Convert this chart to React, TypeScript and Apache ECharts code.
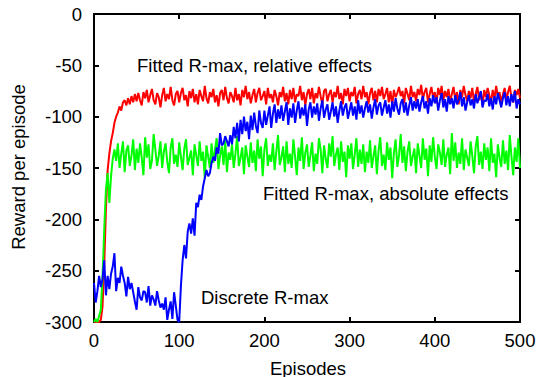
import React, { useEffect, useRef } from "react";
import * as echarts from "echarts";

const FONT = '"Liberation Sans", Arial, Helvetica, sans-serif';
const FS = 18.5;

// Episodes are sampled every 2 episodes, from 0 to 500
const EPISODE_STEP = 2;
const xTicks = [0, 100, 200, 300, 400, 500];
const yTicks = [-300, -250, -200, -150, -100, -50, 0];

const relativeEffects = [
  -300, -300, -300, -300, -298, -285, -245, -190, -152, -136,
  -124, -116, -106, -100, -96, -90, -94, -86, -84, -89,
  -82, -88, -80, -86, -78, -85, -77, -84, -89, -76,
  -82, -74, -86, -79, -73, -84, -88, -77, -81, -91,
  -79, -72, -85, -78, -83, -71, -84, -89, -78, -75,
  -86, -77, -72, -84, -79, -90, -75, -82, -73, -86,
  -78, -88, -74, -80, -85, -70, -82, -87, -76, -81,
  -73, -86, -79, -90, -77, -74, -84, -71, -82, -87,
  -76, -80, -86, -72, -84, -78, -89, -74, -81, -70,
  -83, -76, -87, -79, -73, -86, -77, -72, -84, -80,
  -75, -88, -72, -82, -78, -86, -74, -80, -89, -76,
  -81, -71, -85, -77, -88, -74, -83, -72, -86, -78,
  -80, -70, -84, -76, -89, -78, -73, -83, -72, -87,
  -77, -82, -71, -80, -88, -75, -73, -85, -78, -74,
  -86, -76, -81, -70, -83, -77, -88, -73, -80, -72,
  -85, -76, -80, -71, -87, -78, -74, -83, -70, -81,
  -76, -88, -77, -72, -84, -75, -86, -73, -80, -71,
  -83, -78, -72, -86, -75, -89, -74, -81, -77, -71,
  -80, -75, -87, -72, -78, -84, -70, -81, -76, -85,
  -73, -79, -69, -83, -76, -72, -86, -78, -71, -82,
  -76, -87, -72, -79, -70, -84, -75, -81, -73, -86,
  -78, -71, -84, -76, -88, -74, -81, -70, -79, -85,
  -75, -82, -72, -86, -78, -71, -84, -76, -89, -74,
  -81, -72, -79, -86, -74, -83, -70, -80, -76, -87,
  -78, -72, -84, -76, -70, -82, -86, -74, -79, -73,
  -82,
];

const absoluteEffects = [
  -300, -297, -300, -294, -288, -256, -210, -171, -155, -184,
  -158, -141, -132, -143, -126, -150, -136, -124, -154, -133,
  -128, -148, -138, -122, -152, -131, -145, -126, -140, -157,
  -120, -140, -127, -151, -143, -117, -132, -148, -138, -124,
  -150, -134, -126, -144, -155, -130, -121, -146, -137, -149,
  -125, -139, -152, -131, -122, -147, -140, -133, -157, -127,
  -138, -148, -124, -143, -134, -160, -128, -139, -150, -126,
  -145, -132, -121, -151, -138, -129, -147, -123, -154, -135,
  -142, -127, -150, -136, -119, -148, -140, -130, -156, -128,
  -139, -149, -125, -145, -133, -153, -122, -141, -129, -158,
  -132, -121, -148, -137, -144, -126, -152, -134, -118, -147,
  -140, -129, -154, -124, -146, -136, -150, -122, -139, -157,
  -130, -143, -120, -151, -135, -127, -149, -138, -125, -153,
  -136, -146, -121, -132, -155, -128, -141, -150, -126, -139,
  -119, -148, -137, -130, -152, -124, -144, -134, -159, -128,
  -141, -126, -151, -137, -121, -149, -132, -146, -127, -154,
  -134, -145, -123, -150, -139, -128, -156, -133, -120, -148,
  -137, -152, -125, -142, -130, -160, -135, -122, -149, -138,
  -117, -145, -129, -153, -134, -124, -148, -139, -131, -155,
  -126, -138, -150, -121, -142, -131, -158, -128, -144, -120,
  -139, -151, -127, -135, -147, -122, -149, -137, -130, -156,
  -116, -143, -125, -150, -135, -146, -121, -152, -132, -140,
  -148, -124, -138, -155, -129, -119, -147, -134, -151, -126,
  -142, -130, -153, -121, -145, -136, -159, -127, -140, -149,
  -123, -146, -133, -152, -118, -139, -157, -130, -144, -121,
  -150,
];

const discreteRmax = [
  -262, -281, -270, -255, -266, -258, -240, -274, -255, -268,
  -253, -246, -233, -270, -257, -262, -246, -255, -262, -275,
  -256, -268, -262, -271, -280, -288, -266, -276, -279, -270,
  -271, -281, -265, -284, -274, -278, -284, -270, -279, -286,
  -282, -288, -276, -298, -288, -280, -297, -271, -284, -298,
  -300, -265, -240, -225, -238, -212, -204, -214, -199, -216,
  -184, -188, -176, -181, -168, -160, -152, -158, -155, -145,
  -139, -143, -130, -136, -116, -128, -126, -119, -124, -129,
  -118, -127, -110, -121, -106, -124, -103, -117, -100, -114,
  -105, -122, -99, -113, -96, -109, -116, -94, -106, -111,
  -94, -108, -99, -90, -111, -97, -88, -106, -93, -102,
  -89, -104, -95, -86, -108, -92, -101, -87, -106, -94,
  -85, -102, -91, -99, -88, -109, -93, -86, -101, -90,
  -98, -87, -104, -92, -84, -101, -93, -88, -103, -95,
  -86, -100, -90, -106, -94, -85, -99, -91, -87, -102,
  -94, -86, -99, -90, -103, -84, -97, -89, -101, -92,
  -85, -96, -88, -102, -91, -83, -98, -89, -86, -99,
  -91, -84, -97, -88, -101, -85, -95, -82, -92, -98,
  -87, -83, -96, -86, -99, -89, -81, -94, -85, -92,
  -83, -95, -86, -80, -92, -85, -97, -82, -90, -79,
  -87, -81, -94, -84, -77, -91, -83, -95, -80, -88,
  -82, -92, -79, -88, -84, -76, -90, -81, -94, -86,
  -79, -89, -83, -92, -78, -87, -81, -75, -91, -84,
  -85, -78, -90, -82, -93, -80, -88, -77, -84, -91,
  -82, -76, -89, -80, -90, -78, -86, -75, -92, -83,
  -88,
];

const toPairs = (vals: number[]) => vals.map((v, i) => [i * EPISODE_STEP, v]);

export default function App() {
  const ref = useRef<HTMLDivElement>(null);
  useEffect(() => {
    if (!ref.current) return;
    const chart = echarts.init(ref.current, null, { renderer: "svg" });
    const axisLine = { show: true, onZero: false, lineStyle: { color: "#000", width: 2 } };
    const axisTick = { show: true, inside: true, length: 5, lineStyle: { color: "#000", width: 2 } };
    const label = { color: "#000", fontSize: FS, fontFamily: FONT };
    const xBase = {
      type: "value",
      min: xTicks[0],
      max: xTicks[xTicks.length - 1],
      interval: 100,
      axisLine,
      axisTick,
      splitLine: { show: false },
    };
    const yBase = {
      type: "value",
      min: yTicks[0],
      max: yTicks[yTicks.length - 1],
      interval: 50,
      axisLine,
      axisTick,
      splitLine: { show: false },
    };
    const line = (name: string, vals: number[], color: string) => ({
      name,
      type: "line",
      data: toPairs(vals),
      showSymbol: false,
      symbol: "none",
      clip: true,
      lineStyle: { color, width: 2 },
      itemStyle: { color },
      xAxisIndex: 0,
      yAxisIndex: 0,
    });
    const txt = (text: string, x: number, y: number, align: string) => ({
      type: "text",
      x,
      y,
      style: { text, fontSize: FS, fontFamily: FONT, fill: "#000", align, verticalAlign: "middle" },
    });
    chart.setOption({
      animation: false,
      backgroundColor: "#fff",
      grid: { left: 94, right: 20, top: 14, bottom: 55, containLabel: false },
      xAxis: [
        { ...xBase, position: "bottom", axisLabel: { ...label, margin: 9 } },
        { ...xBase, position: "top", axisLabel: { show: false } },
      ],
      yAxis: [
        { ...yBase, position: "left", axisLabel: { ...label, margin: 12 } },
        { ...yBase, position: "right", axisLabel: { show: false } },
      ],
      series: [
        line("Fitted R-max, relative effects", relativeEffects, "#ff0000"),
        line("Fitted R-max, absolute effects", absoluteEffects, "#00ff00"),
        line("Discrete R-max", discreteRmax, "#0000ff"),
      ],
      graphic: [
        txt("Fitted R-max, relative effects", 137, 65, "left"),
        txt("Fitted R-max, absolute effects", 263, 193, "left"),
        txt("Discrete R-max", 201, 297, "left"),
        txt("Episodes", 308, 368, "center"),
        {
          type: "text",
          x: 18,
          y: 167,
          rotation: Math.PI / 2,
          style: { text: "Reward per episode", fontSize: FS, fontFamily: FONT, fill: "#000", align: "center", verticalAlign: "middle" },
        },
      ],
    });
    return () => chart.dispose();
  }, []);
  return (
    <div
      ref={ref}
      style={{ position: "absolute", left: 0, top: 0, width: 540, height: 377, background: "#fff" }}
    />
  );
}
